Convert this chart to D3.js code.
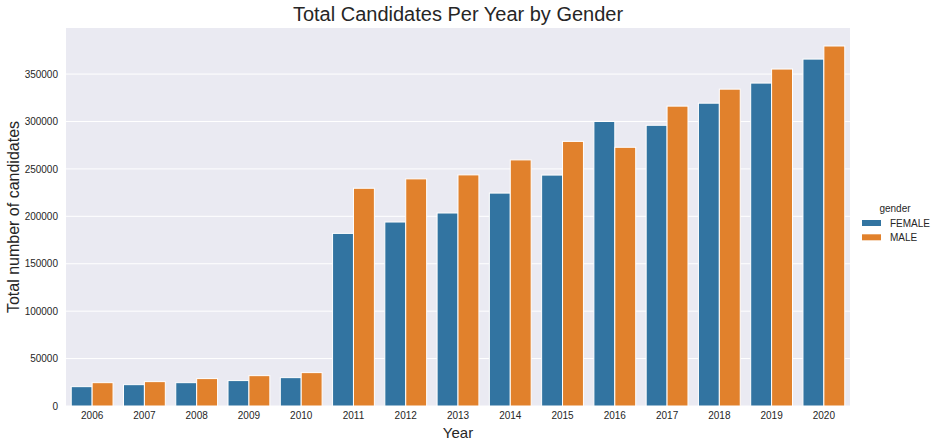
<!DOCTYPE html>
<html><head><meta charset="utf-8">
<script src="https://cdn.jsdelivr.net/npm/d3@7/dist/d3.min.js"></script>
<style>body{margin:0;background:#fff;} text{font-family:"Liberation Sans",Arial,sans-serif;fill:#262626;}</style>
</head><body><svg id="c" width="937" height="447"></svg>
<script>
const years = ["2006","2007","2008","2009","2010","2011","2012","2013","2014","2015","2016","2017","2018","2019","2020"];
const genders = ["FEMALE","MALE"];
const female = [20400,22500,24600,26800,29900,182000,194000,203500,224500,243500,300000,296000,319300,340500,365800];
const male   = [24600,25700,28900,32000,35200,229600,239500,243700,259500,279000,272800,316200,334100,355300,379600];
const yTicks = [0,50000,100000,150000,200000,250000,300000,350000];
const colors = ["#3274a1","#e1812c"];

const svg = d3.select("#c");
const L=66,R=850,T=28,B=406;
const x = d3.scaleBand().domain(years).range([L,R]).paddingInner(0).paddingOuter(0);
const xs = d3.scaleBand().domain(genders).range([0,x.bandwidth()]).paddingInner(0).paddingOuter(0.25);
const ymax = d3.max(male.concat(female))*1.05;
const y = d3.scaleLinear().domain([0,ymax]).range([B,T]);

svg.append("rect").attr("x",L).attr("y",T).attr("width",R-L).attr("height",B-T).attr("fill","#eaeaf2");
// grid
svg.append("g").selectAll("line").data(yTicks).join("line")
  .attr("x1",L).attr("x2",R).attr("y1",d=>y(d)).attr("y2",d=>y(d))
  .attr("stroke","#fff").attr("stroke-width",1);

const data=[];
years.forEach((yr,i)=>{data.push({yr,g:"FEMALE",v:female[i],c:0});data.push({yr,g:"MALE",v:male[i],c:1});});
svg.append("g").selectAll("rect").data(data).join("rect")
  .attr("x",d=>x(d.yr)+xs(d.g)).attr("width",xs.bandwidth())
  .attr("y",d=>y(d.v)).attr("height",d=>B-y(d.v))
  .attr("fill",d=>colors[d.c]).attr("stroke","#fff").attr("stroke-width",1);

// axes
const ya = d3.axisLeft(y).tickValues(yTicks).tickSize(0).tickPadding(8).tickFormat(d3.format("d"));
const gy = svg.append("g").attr("transform",`translate(${L},0)`).call(ya);
const xa = d3.axisBottom(x).tickSize(0).tickPadding(6);
const gx = svg.append("g").attr("transform",`translate(0,${B})`).call(xa);
[gy,gx].forEach(g=>{g.select(".domain").remove();g.selectAll("text").style("font-size","10px").style("font-family","'Liberation Sans',Arial,sans-serif").attr("fill","#262626");});

svg.append("text").attr("x",(L+R)/2).attr("y",21).attr("text-anchor","middle").style("font-size","20px").text("Total Candidates Per Year by Gender");
svg.append("text").attr("x",(L+R)/2).attr("y",438).attr("text-anchor","middle").style("font-size","15px").text("Year");
svg.append("text").attr("transform",`translate(19,${(T+B)/2}) rotate(-90)`).attr("text-anchor","middle").style("font-size","16px").text("Total number of candidates");

// legend
const lg = svg.append("g");
lg.append("text").attr("x",895).attr("y",212).attr("text-anchor","middle").style("font-size","10px").text("gender");
genders.forEach((g,i)=>{
  lg.append("rect").attr("x",862).attr("y",220+i*14.3).attr("width",19).attr("height",6).attr("fill",colors[i]);
  lg.append("text").attr("x",890).attr("y",227+i*14.3).style("font-size","10px").text(g);
});
</script></body></html>
